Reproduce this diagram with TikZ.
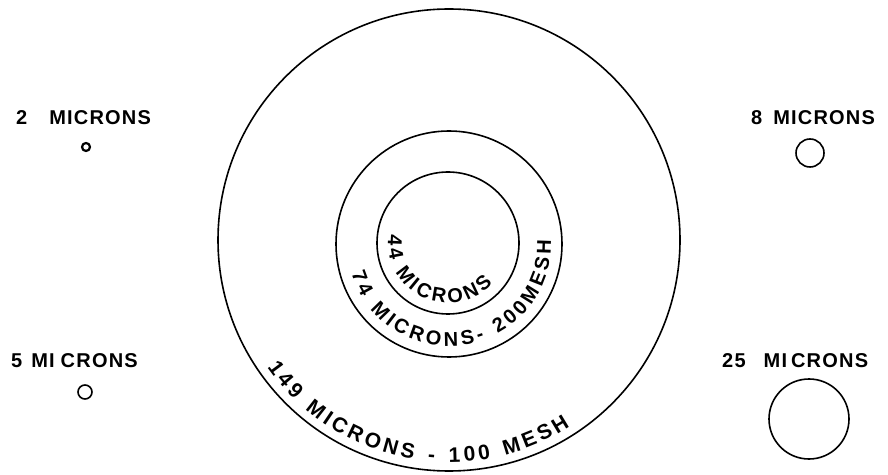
\documentclass[tikz,border=0pt]{standalone}
\usepackage{fontspec}
\newfontfamily\lett[LetterSpace=6]{Liberation Sans}
\usetikzlibrary{decorations.text,calc}
\tikzset{
  ring/.style={circle, draw=black, line width=1.6pt, inner sep=0pt, outer sep=0pt},
  lab/.style={anchor=base west, inner sep=0pt, font=\lett\bfseries\fontsize{20}{20}\selectfont},
}
\begin{document}
\begin{tikzpicture}[x=1pt,y=1pt]
\useasboundingbox (0,0) rectangle (888,474);
% concentric sieve circles
\node[ring, minimum size=462pt] (outer) at (449,234) {};
\node[ring, minimum size=226pt] (middle) at (449,230) {};
\node[ring, minimum size=142pt] (inner) at (448,231) {};
% small particles
\node[ring, line width=2.2pt, minimum size=8pt] (c2) at (86,327) {};
\node[ring, minimum size=14pt] (c5) at (85,82) {};
\node[ring, minimum size=28pt] (c8) at (810,321) {};
\node[ring, minimum size=80pt] (c25) at (809,55) {};
% labels
\node[lab] (l2) at (16,349) {2\hspace{22pt}MICRONS};
\node[lab] (l5) at (11,107) {5\hspace{9pt}MI\hspace{6pt}CRONS};
\node[lab] (l8) at (751,349) {8\hspace{11pt}MICRONS};
\node[lab] (l25) at (722,107) {25\hspace{18pt}MI\hspace{4pt}CRONS};
% curved labels
\path[decorate, decoration={text along path,
  text={|\lett\bfseries\fontsize{20}{20}\selectfont|44 MICRONS},
  text align={fit to path}}]
  ($(inner.center)+(172:60pt)$) arc[start angle=172, end angle=318, radius=60pt];
\path[decorate, decoration={text along path,
  text={|\lett\bfseries\fontsize{20}{20}\selectfont|74 MICRONS- 200MESH},
  text align={fit to path}}]
  ($(middle.center)+(197:102pt)$) arc[start angle=197, end angle=362, radius=102pt];
\path[decorate, decoration={text along path,
  text={|\lett\bfseries\fontsize{21}{21}\selectfont|149 MICRONS - 100 MESH},
  text align={fit to path}}]
  ($(outer.center)+(215:222pt)$) arc[start angle=215, end angle=303, radius=222pt];
\end{tikzpicture}
\end{document}
